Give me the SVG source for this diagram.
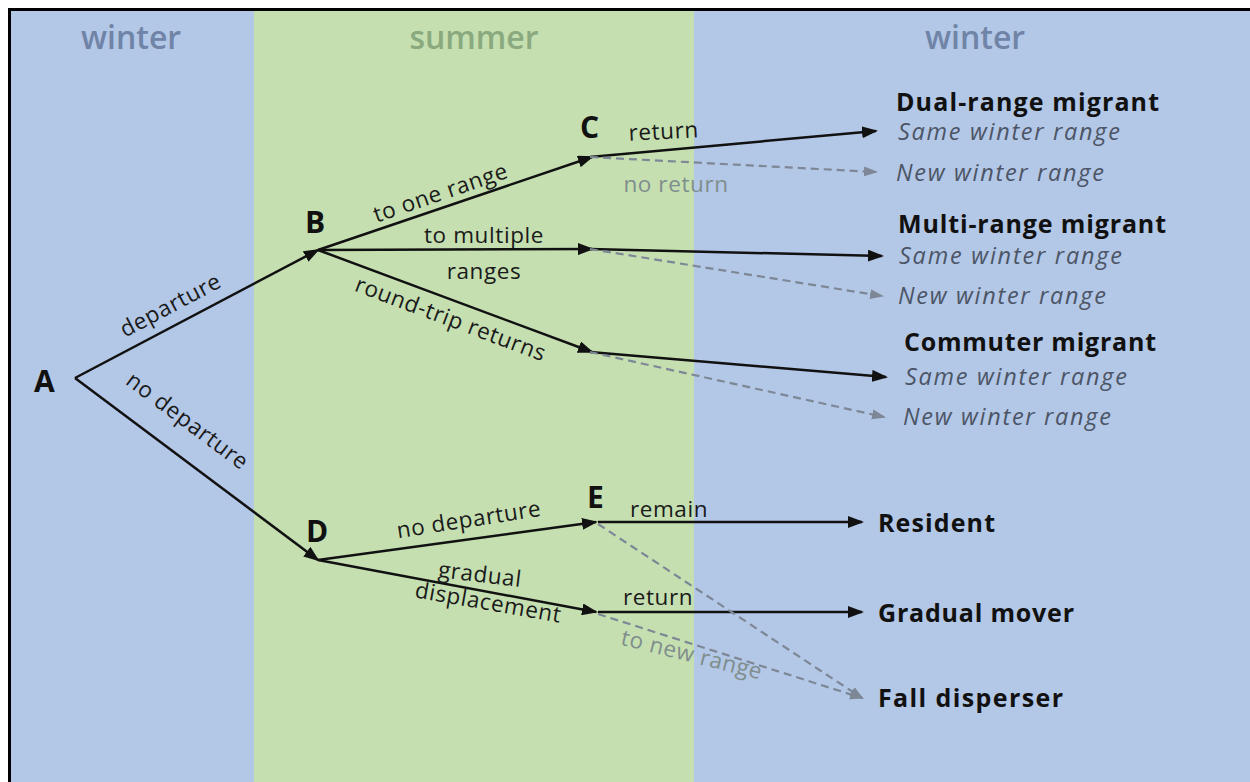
<svg xmlns="http://www.w3.org/2000/svg" width="1250" height="782" viewBox="0 0 1250 782">
<style>
.hdr{font-family:"Open Sans","DejaVu Sans",sans-serif;font-size:32px;font-weight:600;text-anchor:middle}
.node{font-family:"Open Sans","DejaVu Sans",sans-serif;font-size:30px;font-weight:700;fill:#111}
.lbl{font-family:"Open Sans","DejaVu Sans",sans-serif;font-size:22.5px;font-weight:500;letter-spacing:0.6px;fill:#1a1a1a}
.glbl{font-family:"Open Sans","DejaVu Sans",sans-serif;font-size:22.5px;font-weight:500;letter-spacing:0.6px;fill:#7f8e8c}
.out{font-family:"Open Sans","DejaVu Sans",sans-serif;font-size:25px;font-weight:700;fill:#111}
.sub{font-family:"Open Sans","DejaVu Sans",sans-serif;font-size:23.5px;font-style:italic;fill:#4c5566}
.solid{stroke:#111;stroke-width:2.5;fill:none;marker-end:url(#ah)}
.dash{stroke:#7d8796;stroke-width:2.2;fill:none;stroke-dasharray:8 5;marker-end:url(#ahg)}
</style>
<defs>
<marker id="ah" markerUnits="userSpaceOnUse" markerWidth="16" markerHeight="12" refX="14" refY="6" orient="auto"><path d="M0,0 L16,6 L0,12 Z" fill="#111"/></marker>
<marker id="ahg" markerUnits="userSpaceOnUse" markerWidth="14" markerHeight="12" refX="12" refY="6" orient="auto"><path d="M0,1 L14,6 L0,11 Z" fill="#7d8796"/></marker>
</defs>
<rect x="0" y="0" width="1250" height="782" fill="#ffffff"/>
<rect x="8" y="8" width="1242" height="774" fill="#000"/>
<rect x="11" y="11" width="1239" height="771" fill="#b3c7e6"/>
<rect x="254" y="11" width="440" height="771" fill="#c5dfb1"/>
<text class="hdr" x="131" y="49" fill="#6f84a6">winter</text>
<text class="hdr" x="474" y="49" fill="#8aa97e">summer</text>
<text class="hdr" x="975" y="49" fill="#6f84a6">winter</text>

<g id="connectors">
<line class="solid" x1="75" y1="378" x2="318" y2="250"/>
<line class="solid" x1="75" y1="378" x2="318" y2="560"/>
<line class="solid" x1="318" y1="250" x2="592" y2="157"/>
<line class="solid" x1="318" y1="250" x2="592" y2="249"/>
<line class="solid" x1="318" y1="250" x2="592" y2="352"/>
<line class="solid" x1="590" y1="157" x2="876" y2="131"/>
<line class="dash" x1="590" y1="157" x2="876" y2="172"/>
<line class="solid" x1="590" y1="249" x2="882" y2="256"/>
<line class="dash" x1="590" y1="249" x2="882" y2="296"/>
<line class="solid" x1="590" y1="352" x2="886" y2="377"/>
<line class="dash" x1="590" y1="352" x2="884" y2="417"/>
<line class="solid" x1="318" y1="560" x2="596" y2="522"/>
<line class="solid" x1="318" y1="560" x2="596" y2="612"/>
<line class="solid" x1="598" y1="522" x2="862" y2="522"/>
<line class="solid" x1="598" y1="612" x2="862" y2="612"/>
<line class="dash" x1="598" y1="524" x2="862" y2="698"/>
<line class="dash" x1="598" y1="614" x2="862" y2="698"/>
</g>

<g id="edge-labels">
<text class="lbl" transform="translate(174,312) rotate(-27.8)" text-anchor="middle">departure</text>
<text class="lbl" transform="translate(183,427) rotate(36.8)" text-anchor="middle">no departure</text>
<text class="lbl" transform="translate(443,200) rotate(-18.9)" text-anchor="middle">to one range</text>
<text class="lbl" x="484" y="243" text-anchor="middle">to multiple</text>
<text class="lbl" x="484" y="279" text-anchor="middle">ranges</text>
<text class="lbl" transform="translate(448,326) rotate(20.6)" text-anchor="middle">round-trip returns</text>
<text class="lbl" transform="translate(664,139) rotate(-3)" text-anchor="middle">return</text>
<text class="glbl" x="676" y="192" text-anchor="middle">no return</text>
<text class="lbl" transform="translate(470,527) rotate(-8.8)" text-anchor="middle">no departure</text>
<text class="lbl" transform="translate(479,582) rotate(7)" text-anchor="middle">gradual</text>
<text class="lbl" transform="translate(487,610) rotate(10)" text-anchor="middle">displacement</text>
<text class="lbl" x="669" y="517" text-anchor="middle">remain</text>
<text class="lbl" x="658" y="605" text-anchor="middle">return</text>
<text class="glbl" transform="translate(690,662) rotate(14)" text-anchor="middle">to new range</text>
</g>

<g id="A"><text class="node" x="34" y="392">A</text></g>
<g id="B"><text class="node" x="305" y="233">B</text></g>
<g id="C"><text class="node" x="580" y="138">C</text></g>
<g id="D"><text class="node" x="306" y="542">D</text></g>
<g id="E"><text class="node" x="587" y="508">E</text></g>

<g id="dual-range-migrant">
<text class="out" x="896" y="111" textLength="263">Dual-range migrant</text>
<text class="sub" x="898" y="140" textLength="222">Same winter range</text>
<text class="sub" x="896" y="181" textLength="208">New winter range</text>
</g>
<g id="multi-range-migrant">
<text class="out" x="898" y="233" textLength="268">Multi-range migrant</text>
<text class="sub" x="899" y="264" textLength="223">Same winter range</text>
<text class="sub" x="898" y="304" textLength="208">New winter range</text>
</g>
<g id="commuter-migrant">
<text class="out" x="904" y="351" textLength="252">Commuter migrant</text>
<text class="sub" x="905" y="385" textLength="222">Same winter range</text>
<text class="sub" x="903" y="425" textLength="208">New winter range</text>
</g>
<g id="resident"><text class="out" x="878" y="532" textLength="117">Resident</text></g>
<g id="gradual-mover"><text class="out" x="878" y="622" textLength="196">Gradual mover</text></g>
<g id="fall-disperser"><text class="out" x="878" y="707" textLength="185">Fall disperser</text></g>
</svg>
